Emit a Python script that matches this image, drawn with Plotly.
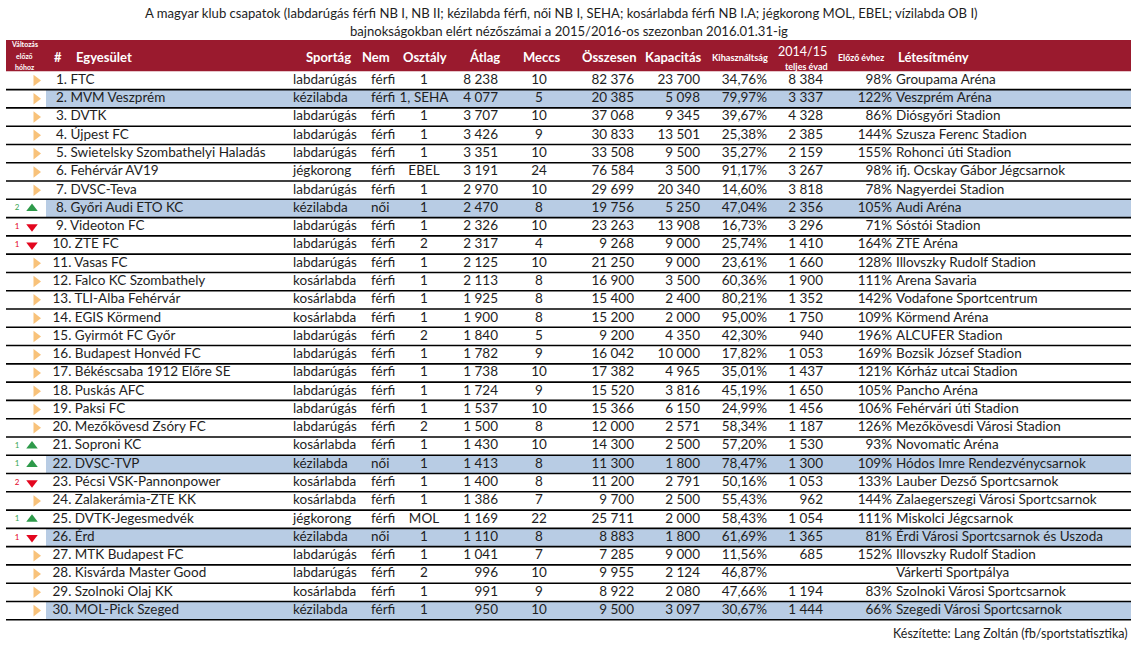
import plotly.graph_objects as go

# ---------------- data ----------------
ranks = list(range(1, 31))
clubs = ["FTC", "MVM Veszprém", "DVTK", "Újpest FC", "Swietelsky Szombathelyi Haladás",
         "Fehérvár AV19", "DVSC-Teva", "Győri Audi ETO KC", "Videoton FC", "ZTE FC",
         "Vasas FC", "Falco KC Szombathely", "TLI-Alba Fehérvár", "EGIS Körmend", "Gyirmót FC Győr",
         "Budapest Honvéd FC", "Békéscsaba 1912 Előre SE", "Puskás AFC", "Paksi FC", "Mezőkövesd Zsóry FC",
         "Soproni KC", "DVSC-TVP", "Pécsi VSK-Pannonpower", "Zalakerámia-ZTE KK", "DVTK-Jegesmedvék",
         "Érd", "MTK Budapest FC", "Kisvárda Master Good", "Szolnoki Olaj KK", "MOL-Pick Szeged"]
sports = ["labdarúgás", "kézilabda", "labdarúgás", "labdarúgás", "labdarúgás",
          "jégkorong", "labdarúgás", "kézilabda", "labdarúgás", "labdarúgás",
          "labdarúgás", "kosárlabda", "kosárlabda", "kosárlabda", "labdarúgás",
          "labdarúgás", "labdarúgás", "labdarúgás", "labdarúgás", "labdarúgás",
          "kosárlabda", "kézilabda", "kosárlabda", "kosárlabda", "jégkorong",
          "kézilabda", "labdarúgás", "labdarúgás", "kosárlabda", "kézilabda"]
genders = ["férfi", "férfi", "férfi", "férfi", "férfi", "férfi", "férfi", "női", "férfi", "férfi",
           "férfi", "férfi", "férfi", "férfi", "férfi", "férfi", "férfi", "férfi", "férfi", "férfi",
           "férfi", "női", "férfi", "férfi", "férfi", "női", "férfi", "férfi", "férfi", "férfi"]
divisions = ["1", "1, SEHA", "1", "1", "1", "EBEL", "1", "1", "1", "2",
             "1", "1", "1", "1", "2", "1", "1", "1", "1", "2",
             "1", "1", "1", "1", "MOL", "1", "1", "2", "1", "1"]
averages = [8238, 4077, 3707, 3426, 3351, 3191, 2970, 2470, 2326, 2317,
            2125, 2113, 1925, 1900, 1840, 1782, 1738, 1724, 1537, 1500,
            1430, 1413, 1400, 1386, 1169, 1110, 1041, 996, 991, 950]
matches = [10, 5, 10, 9, 10, 24, 10, 8, 10, 4,
           10, 8, 8, 8, 5, 9, 10, 9, 10, 8,
           10, 8, 8, 7, 22, 8, 7, 10, 9, 10]
totals = [82376, 20385, 37068, 30833, 33508, 76584, 29699, 19756, 23263, 9268,
          21250, 16900, 15400, 15200, 9200, 16042, 17382, 15520, 15366, 12000,
          14300, 11300, 11200, 9700, 25711, 8883, 7285, 9955, 8922, 9500]
capacities = [23700, 5098, 9345, 13501, 9500, 3500, 20340, 5250, 13908, 9000,
              9000, 3500, 2400, 2000, 4350, 10000, 4965, 3816, 6150, 2571,
              2500, 1800, 2791, 2500, 2000, 1800, 9000, 2124, 2080, 3097]
utilization = [34.76, 79.97, 39.67, 25.38, 35.27, 91.17, 14.60, 47.04, 16.73, 25.74,
               23.61, 60.36, 80.21, 95.00, 42.30, 17.82, 35.01, 45.19, 24.99, 58.34,
               57.20, 78.47, 50.16, 55.43, 58.43, 61.69, 11.56, 46.87, 47.66, 30.67]
prev_season = [8384, 3337, 4328, 2385, 2159, 3267, 3818, 2356, 3296, 1410,
               1660, 1900, 1352, 1750, 940, 1053, 1437, 1650, 1456, 1187,
               1530, 1300, 1053, 962, 1054, 1365, 685, None, 1194, 1444]
vs_prev = [98, 122, 86, 144, 155, 98, 78, 105, 71, 164,
           128, 111, 142, 109, 196, 169, 121, 105, 106, 126,
           93, 109, 133, 144, 111, 81, 152, None, 83, 66]
venues = ["Groupama Aréna", "Veszprém Aréna", "Diósgyőri Stadion", "Szusza Ferenc Stadion",
          "Rohonci úti Stadion", "ifj. Ocskay Gábor Jégcsarnok", "Nagyerdei Stadion", "Audi Aréna",
          "Sóstói Stadion", "ZTE Aréna", "Illovszky Rudolf Stadion", "Arena Savaria",
          "Vodafone Sportcentrum", "Körmend Aréna", "ALCUFER Stadion", "Bozsik József Stadion",
          "Kórház utcai Stadion", "Pancho Aréna", "Fehérvári úti Stadion", "Mezőkövesdi Városi Stadion",
          "Novomatic Aréna", "Hódos Imre Rendezvénycsarnok", "Lauber Dezső Sportcsarnok",
          "Zalaegerszegi Városi Sportcsarnok", "Miskolci Jégcsarnok", "Érdi Városi Sportcsarnok és Uszoda",
          "Illovszky Rudolf Stadion", "Várkerti Sportpálya", "Szolnoki Városi Sportcsarnok",
          "Szegedi Városi Sportcsarnok"]
changes = [0, 0, 0, 0, 0, 0, 0, 2, -1, -1,
           0, 0, 0, 0, 0, 0, 0, 0, 0, 0,
           1, 1, -2, 0, 1, -1, 0, 0, 0, 0]

title_lines = ["A magyar klub csapatok (labdarúgás férfi NB I, NB II; kézilabda férfi, női NB I, SEHA; "
               "kosárlabda férfi NB I.A; jégkorong MOL, EBEL; vízilabda OB I)",
               "bajnokságokban elért nézőszámai a 2015/2016-os szezonban 2016.01.31-ig"]
footer = "Készítette: Lang Zoltán (fb/sportstatisztika)"

# ---------------- style / layout constants ----------------
W, H = 1145, 645
ROW1_PX, PITCH = 80.5, 18.28
FONT = "Lato"
BODY = 13.5
TXT = "#1e1e1e"
HEAD_BG = "#9A1A2E"
HILITE = "#B8CCE4"
LEFT, RIGHT = 6, 1131


def row_at(px):
    return 1 + (px - ROW1_PX) / PITCH


def fint(v):
    return "" if v is None else f"{v:,}".replace(",", "\u00a0")


def fpct(v):
    return f"{v:.2f}".replace(".", ",") + "%"


fig = go.Figure()

# highlighted (handball) rows as horizontal bars
hl = [r for r, s in zip(ranks, sports) if s == "kézilabda"]
fig.add_trace(go.Bar(orientation="h", y=hl, x=[RIGHT - 46] * len(hl), base=46, width=1.0,
                     marker=dict(color=HILITE, line=dict(width=0)), hoverinfo="skip",
                     showlegend=False))

# row separator lines
lx, ly = [], []
for r in ranks:
    lx += [LEFT, RIGHT, None]
    ly += [r + 0.5, r + 0.5, None]
fig.add_trace(go.Scatter(x=lx, y=ly, mode="lines", line=dict(color="#000000", width=1.6),
                         hoverinfo="skip", showlegend=False))


def text_col(x, texts, pos, size=BODY, color=TXT):
    fig.add_trace(go.Scatter(x=[x] * len(texts), y=ranks, mode="text", text=texts,
                             textposition=pos, textfont=dict(family=FONT, size=size, color=color),
                             hoverinfo="skip", showlegend=False))


# change indicators
side = [r for r, c in zip(ranks, changes) if c == 0]
up = [r for r, c in zip(ranks, changes) if c > 0]
down = [r for r, c in zip(ranks, changes) if c < 0]
fig.add_trace(go.Scatter(x=[36] * len(side), y=side, mode="markers",
                         marker=dict(symbol="triangle-right", size=10, color="#F8C27A"),
                         hoverinfo="skip", showlegend=False))
fig.add_trace(go.Scatter(x=[32] * len(up), y=up, mode="markers",
                         marker=dict(symbol="triangle-up", size=10, color="#2E9A4A"),
                         hoverinfo="skip", showlegend=False))
fig.add_trace(go.Scatter(x=[32] * len(down), y=down, mode="markers",
                         marker=dict(symbol="triangle-down", size=10, color="#E3061E"),
                         hoverinfo="skip", showlegend=False))
chg_r = [r for r, c in zip(ranks, changes) if c != 0]
chg_t = [str(abs(c)) for c in changes if c != 0]
chg_c = ["#3AA653" if c > 0 else "#E3061E" for c in changes if c != 0]
fig.add_trace(go.Scatter(x=[17] * len(chg_r), y=chg_r, mode="text", text=chg_t,
                         textposition="middle center",
                         textfont=dict(family=FONT, size=8, color=chg_c),
                         hoverinfo="skip", showlegend=False))

# body columns
names = [("\u00a0" if r < 10 else "") + f"{r}. {c}" for r, c in zip(ranks, clubs)]
text_col(52.5, names, "middle right")
text_col(293, sports, "middle right")
text_col(371, genders, "middle right")
text_col(424, divisions, "middle center")
text_col(498, [fint(v) for v in averages], "middle left")
text_col(539, [str(v) for v in matches], "middle center")
text_col(634, [fint(v) for v in totals], "middle left")
text_col(700, [fint(v) for v in capacities], "middle left")
text_col(767, [fpct(v) for v in utilization], "middle left")
text_col(823, [fint(v) for v in prev_season], "middle left")
text_col(892, ["" if v is None else f"{v}%" for v in vs_prev], "middle left")
text_col(896, venues, "middle right")

# header band
fig.add_shape(type="rect", xref="x", yref="y", x0=LEFT, x1=RIGHT, y0=row_at(40), y1=0.5,
              fillcolor=HEAD_BG, line=dict(width=0), layer="below")

HEAD_Y = row_at(57)
headers = [
    ("#", 58, HEAD_Y, "center", 13, True),
    ("Egyesület", 74, HEAD_Y, "left", 13, True),
    ("Sportág", 328, HEAD_Y, "center", 13, True),
    ("Nem", 376, HEAD_Y, "center", 13, True),
    ("Osztály", 425, HEAD_Y, "center", 13, True),
    ("Átlag", 484, HEAD_Y, "center", 13, True),
    ("Meccs", 541, HEAD_Y, "center", 13, True),
    ("Összesen", 609, HEAD_Y, "center", 13, True),
    ("Kapacitás", 673, HEAD_Y, "center", 13, True),
    ("Kihasználtság", 740, HEAD_Y, "center", 9.2, True),
    ("2014/15", 802, row_at(51), "center", 12.5, False),
    ("teljes évad", 806, row_at(66), "center", 9, True),
    ("Előző évhez", 861, HEAD_Y, "center", 8.8, True),
    ("Létesítmény", 896, HEAD_Y, "left", 13, True),
    ("Változás", 24.5, row_at(44), "center", 7, True),
    ("előző", 24.5, row_at(55.5), "center", 7, True),
    ("hóhoz", 24.5, row_at(67), "center", 7, True),
]
for t, x, y, anc, sz, bold in headers:
    fig.add_annotation(x=x, y=y, xref="x", yref="y", text=f"<b>{t}</b>" if bold else t,
                       xanchor=anc, yanchor="middle", showarrow=False,
                       font=dict(family=FONT, size=sz, color="#FFFFFF"))

# titles and footer
fig.add_annotation(x=561, y=row_at(13), xref="x", yref="y", text=title_lines[0], showarrow=False,
                   xanchor="center", yanchor="middle", font=dict(family=FONT, size=13.1, color=TXT))
fig.add_annotation(x=569, y=row_at(31), xref="x", yref="y", text=title_lines[1], showarrow=False,
                   xanchor="center", yanchor="middle", font=dict(family=FONT, size=13.1, color=TXT))
fig.add_annotation(x=1130, y=row_at(633), xref="x", yref="y", text=footer, showarrow=False,
                   xanchor="right", yanchor="middle", font=dict(family=FONT, size=12.5, color=TXT))

fig.update_layout(
    width=W, height=H, margin=dict(l=0, r=0, t=0, b=0),
    paper_bgcolor="white", plot_bgcolor="white",
    xaxis=dict(range=[0, W], visible=False, fixedrange=True),
    yaxis=dict(range=[row_at(H), row_at(0)], visible=False, fixedrange=True),
    bargap=0, showlegend=False,
)

fig.write_html("out.html", config={"displayModeBar": False},
               post_script="document.body.style.margin='0';document.body.style.overflow='hidden';")
